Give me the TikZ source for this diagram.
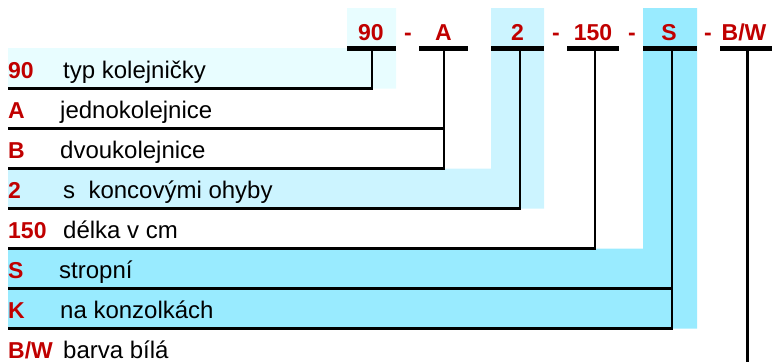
\documentclass[tikz,border=0pt]{standalone}
\usepackage{fontspec}
\setmainfont{Liberation Sans}
\definecolor{palec}{RGB}{232,253,255}
\definecolor{lightc}{RGB}{204,244,255}
\definecolor{cyanc}{RGB}{153,235,255}
\definecolor{codered}{RGB}{192,0,0}
\begin{document}
\begin{tikzpicture}[x=1pt,y=-1pt,
  code/.style={text=codered,font=\fontsize{23}{26}\selectfont\bfseries,inner sep=0pt},
  desc/.style={font=\fontsize{24}{27}\selectfont,inner sep=0pt,anchor=base west},
  bar/.style={line width=5pt},
  conn/.style={line width=2.6pt,line join=miter}]
\useasboundingbox (0,0) rectangle (772,362);
% shaded bands
\fill[palec] (347,8) -- (396,8) -- (396,88.5) -- (8,88.5) -- (8,48) -- (347,48) -- cycle;
\fill[lightc] (491,8) -- (544,8) -- (544,208.5) -- (8,208.5) -- (8,168.5) -- (491,168.5) -- cycle;
\fill[cyanc] (643,8) -- (697,8) -- (697,328.7) -- (8,328.7) -- (8,248.5) -- (643,248.5) -- cycle;
% top code labels
\node[code,anchor=base] (t90) at (371,40.5) {90};
\node[code,anchor=base] (d1) at (408,40.5) {-};
\node[code,anchor=base] (tA) at (443.5,40.5) {A};
\node[code,anchor=base] (t2) at (517.5,40.5) {2};
\node[code,anchor=base] (d2) at (556,40.5) {-};
\node[code,anchor=base] (t150) at (593,40.5) {150};
\node[code,anchor=base] (d3) at (632,40.5) {-};
\node[code,anchor=base] (tS) at (669,40.5) {S};
\node[code,anchor=base] (d4) at (708,40.5) {-};
\node[code,anchor=base] (tBW) at (744,40.5) {B/W};
% bars
\coordinate (b90l) at (347,48.5); \coordinate (b90r) at (396,48.5);
\coordinate (bAl) at (419,48.5); \coordinate (bAr) at (468,48.5);
\coordinate (b2l) at (491,48.5); \coordinate (b2r) at (544,48.5);
\coordinate (b150l) at (567,48.5); \coordinate (b150r) at (619,48.5);
\coordinate (bSl) at (643,48.5); \coordinate (bSr) at (697,48.5);
\coordinate (bBWl) at (720,48.5); \coordinate (bBWr) at (772,48.5);
\draw[bar] (b90l) -- (b90r);
\draw[bar] (bAl) -- (bAr);
\draw[bar] (b2l) -- (b2r);
\draw[bar] (b150l) -- (b150r);
\draw[bar] (bSl) -- (bSr);
\draw[bar] (bBWl) -- (bBWr);
% stem tops
\coordinate (s90) at (372,48.5);
\coordinate (sA) at (444,48.5);
\coordinate (s2) at (520,48.5);
\coordinate (s150) at (595,48.5);
\coordinate (sS) at (672,48.5);
\coordinate (sBW) at (747.5,48.5);
% row line ends (left)
\coordinate (e90) at (8,88.5);
\coordinate (eA) at (8,128.5);
\coordinate (eB) at (8,168.5);
\coordinate (e2) at (8,208.5);
\coordinate (e150) at (8,248.5);
\coordinate (eS) at (8,288.5);
\coordinate (eK) at (8,328.5);
\coordinate (eBW) at (747.5,362);
% connectors
\draw[conn] (s90) |- (e90);
\draw[conn] (sA) |- (eB);
\draw[conn] (eA) -| (sA);
\draw[conn] (s2) |- (e2);
\draw[conn] (s150) |- (e150);
\draw[conn] (sS) |- (eK);
\draw[conn] (eS) -| (sS);
\draw[conn] (sBW) -- (eBW);
% row texts
\node[code,anchor=base west] (c90) at (8,78) {90};
\node[desc] (x90) at (63,78) {typ kolejničky};
\node[code,anchor=base west] (cA) at (8,118) {A};
\node[desc] (xA) at (60,118) {jednokolejnice};
\node[code,anchor=base west] (cB) at (8,158) {B};
\node[desc] (xB) at (60,158) {dvoukolejnice};
\node[code,anchor=base west] (c2) at (8,198) {2};
\node[desc] (x2) at (63,198) {s\ \ koncovými ohyby};
\node[code,anchor=base west] (c150) at (8,238) {150};
\node[desc] (x150) at (63,238) {délka v cm};
\node[code,anchor=base west] (cS) at (8,278) {S};
\node[desc] (xS) at (59,278) {stropní};
\node[code,anchor=base west] (cK) at (8,318) {K};
\node[desc] (xK) at (60,318) {na konzolkách};
\node[code,anchor=base west] (cBW) at (8,358) {B/W};
\node[desc] (xBW) at (63,358) {barva bílá};
\end{tikzpicture}
\end{document}
